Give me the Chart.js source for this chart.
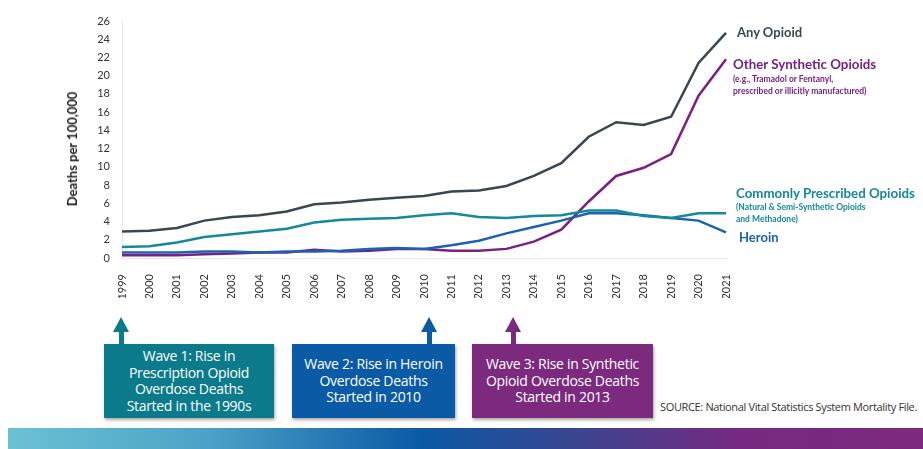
<!DOCTYPE html>
<html>
<head>
<meta charset="utf-8">
<script src="https://cdn.jsdelivr.net/npm/chart.js@4.4.1/dist/chart.umd.min.js"></script>
<style>
  body { margin: 0; background: #fff; font-family: Lato, "Open Sans", sans-serif; }
  #wrap { position: relative; width: 923px; height: 449px; overflow: hidden; }
  #chartBox { position: absolute; left: 0; top: 0; width: 923px; height: 300px; }
  #ytitle { position: absolute; left: 72px; top: 149px; transform: translate(-50%, -50%) rotate(-90deg);
            font-weight: bold; font-size: 13px; color: #222; white-space: nowrap; }
  .lbl { position: absolute; font-weight: bold; white-space: nowrap; line-height: 1; }
  .sub { position: absolute; font-weight: bold; font-size: 8.5px; line-height: 11.5px; white-space: nowrap; }
  .box { position: absolute; top: 344px; height: 74px; color: #fff; font-family: "Open Sans", sans-serif;
         font-size: 14px; line-height: 16.5px; text-align: center; display: flex; align-items: center;
         justify-content: center; box-shadow: 1px 2px 3px rgba(0,0,0,0.35); letter-spacing: -0.3px; }
  .arrow { position: absolute; top: 317px; width: 16px; height: 27px; }
  .arrow .head { width: 0; height: 0; border-left: 8px solid transparent; border-right: 8px solid transparent; border-bottom: 15px solid; }
  .arrow .shaft { width: 5px; height: 12px; margin-left: 5.5px; }
  #source { position: absolute; left: 660px; top: 399px; font-family: "Open Sans", sans-serif; font-size: 11px; color: #333; white-space: nowrap; letter-spacing: -0.35px; }
  #band { position: absolute; left: 8px; top: 428px; width: 915px; height: 21px;
          background: linear-gradient(90deg, #6cc1d3 0%, #4aa3c6 22%, #0b5aa6 45%, #3a4590 62%, #782a82 80%, #7b2a7e 100%); }
</style>
</head>
<body>
<div id="wrap">
  <div id="chartBox"><canvas id="opioidChart"></canvas></div>
  <div id="ytitle">Deaths per 100,000</div>

  <div class="lbl" style="left:737px; top:26px; font-size:13px; color:#3b4652;">Any Opioid</div>
  <div class="lbl" style="left:733px; top:58px; font-size:13.3px; color:#7a2082;">Other Synthetic Opioids</div>
  <div class="sub" style="left:733px; top:74px; color:#7a2082;">(e.g., Tramadol or Fentanyl,<br>prescribed or illicitly manufactured)</div>
  <div class="lbl" style="left:736px; top:187px; font-size:13.3px; color:#13899a;">Commonly Prescribed Opioids</div>
  <div class="sub" style="left:736px; top:202px; color:#13899a;">(Natural &amp; Semi-Synthetic Opioids<br>and Methadone)</div>
  <div class="lbl" style="left:739px; top:231px; font-size:13px; color:#1a63b4;">Heroin</div>

  <div class="arrow" style="left:113px;"><div class="head" style="border-bottom-color:#0b7b8b;"></div><div class="shaft" style="background:#0b7b8b;"></div></div>
  <div class="arrow" style="left:421px;"><div class="head" style="border-bottom-color:#0b5aa6;"></div><div class="shaft" style="background:#0b5aa6;"></div></div>
  <div class="arrow" style="left:505px;"><div class="head" style="border-bottom-color:#7b2a7e;"></div><div class="shaft" style="background:#7b2a7e;"></div></div>

  <div class="box" style="left:104px; width:170px; background:#0b7b8b;">Wave 1: Rise in<br>Prescription Opioid<br>Overdose Deaths<br>Started in the 1990s</div>
  <div class="box" style="left:292px; width:163px; background:#0b5aa6;">Wave 2: Rise in Heroin<br>Overdose Deaths<br>Started in 2010</div>
  <div class="box" style="left:472px; width:181px; background:#7b2a7e;">Wave 3: Rise in Synthetic<br>Opioid Overdose Deaths<br>Started in 2013</div>

  <div id="source">SOURCE: National Vital Statistics System Mortality File.</div>
  <div id="band"></div>
</div>

<script>
// years on the x axis
const years = ['1999','2000','2001','2002','2003','2004','2005','2006','2007','2008','2009',
               '2010','2011','2012','2013','2014','2015','2016','2017','2018','2019','2020','2021'];

// deaths per 100,000
const anyOpioid = [2.9, 3.0, 3.3, 4.1, 4.5, 4.7, 5.1, 5.9, 6.1, 6.4, 6.6,
                   6.8, 7.3, 7.4, 7.9, 9.0, 10.4, 13.3, 14.9, 14.6, 15.5, 21.4, 24.7];
const otherSynthetic = [0.3, 0.3, 0.3, 0.4, 0.5, 0.6, 0.6, 0.9, 0.7, 0.8, 1.0,
                        1.0, 0.8, 0.8, 1.0, 1.8, 3.1, 6.2, 9.0, 9.9, 11.4, 17.8, 21.8];
const commonlyPrescribed = [1.2, 1.3, 1.7, 2.3, 2.6, 2.9, 3.2, 3.9, 4.2, 4.3, 4.4,
                            4.7, 4.9, 4.5, 4.4, 4.6, 4.7, 5.2, 5.2, 4.6, 4.4, 4.9, 4.9];
const heroin = [0.6, 0.6, 0.6, 0.7, 0.7, 0.6, 0.7, 0.7, 0.8, 1.0, 1.1,
                1.0, 1.4, 1.9, 2.7, 3.4, 4.1, 4.9, 4.9, 4.7, 4.4, 4.1, 2.8];

const yTicks = [0, 2, 4, 6, 8, 10, 12, 14, 16, 18, 20, 22, 24, 26];

function line(label, data, color) {
  return {
    label: label,
    data: data,
    borderColor: color,
    backgroundColor: color,
    borderWidth: 2.5,
    pointRadius: 0,
    tension: 0,
    fill: false
  };
}

window.onload = function () {
  const ctx = document.getElementById('opioidChart').getContext('2d');
  new Chart(ctx, {
    type: 'line',
    data: {
      labels: years,
      datasets: [
        line('Commonly Prescribed Opioids', commonlyPrescribed, '#13899a'),
        line('Heroin', heroin, '#1a63b4'),
        line('Other Synthetic Opioids', otherSynthetic, '#7a2082'),
        line('Any Opioid', anyOpioid, '#3b4652')
      ]
    },
    options: {
      responsive: true,
      maintainAspectRatio: false,
      animation: false,
      layout: { padding: { left: 60, right: 197, top: 21, bottom: 2 } },
      plugins: { legend: { display: false }, tooltip: { enabled: false } },
      scales: {
        x: {
          grid: { display: false },
          border: { display: true, color: '#e6e6e6', width: 1 },
          ticks: {
            autoSkip: false,
            maxRotation: 90,
            minRotation: 90,
            padding: 8,
            color: '#333',
            font: { family: 'Lato', size: 11 }
          },
          afterFit: function (s) { s.height = 40; }
        },
        y: {
          min: 0,
          max: 26,
          afterBuildTicks: function (s) { s.ticks = yTicks.map(v => ({ value: v })); },
          grid: { display: false },
          border: { display: true, color: '#e6e6e6', width: 1 },
          ticks: {
            padding: 4,
            color: '#333',
            font: { family: 'Lato', size: 11 }
          },
          afterFit: function (s) { s.width = 62; }
        }
      }
    }
  });
};
</script>
</body>
</html>
